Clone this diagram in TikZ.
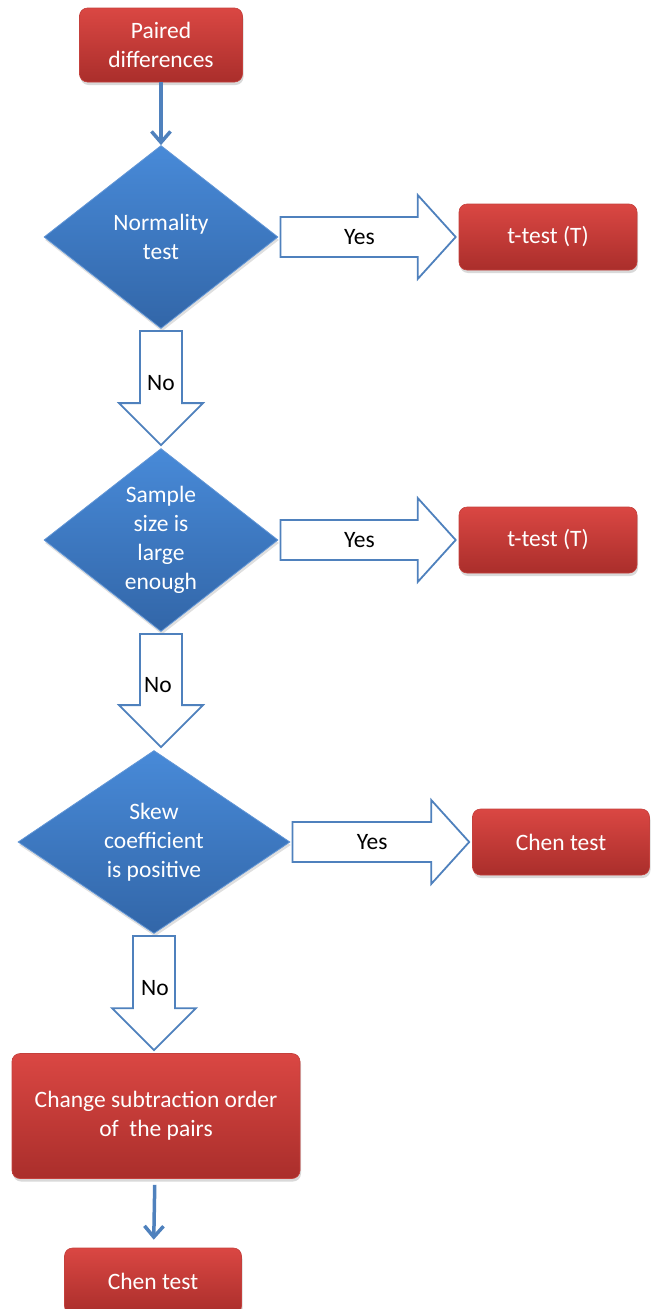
\documentclass[tikz,border=0pt]{standalone}
\usepackage{fontspec}
\setmainfont{Carlito}
\usetikzlibrary{shapes.geometric,arrows.meta,calc,shadows}

\definecolor{boxtop}{RGB}{218,71,67}
\definecolor{boxbot}{RGB}{170,46,43}
\definecolor{boxline}{RGB}{196,64,60}
\definecolor{dtop}{RGB}{72,138,216}
\definecolor{dbot}{RGB}{50,102,168}
\definecolor{dline}{RGB}{98,150,214}
\definecolor{arrowblue}{RGB}{79,129,189}

\tikzset{
  x=1pt, y=-1pt,
  every node/.style={font=\fontsize{23.5}{29}\selectfont},
  testbox/.style={rectangle, rounded corners=8pt, top color=boxtop, bottom color=boxbot,
    draw=boxline, line width=0.6pt, text=white, align=center,
    drop shadow={opacity=0.3, shadow xshift=1pt, shadow yshift=-3pt}},
  decision/.style={diamond, aspect=1.3, inner sep=0pt, minimum height=183pt, top color=dtop,
    bottom color=dbot, draw=dline, line width=0.8pt, text=white, align=center,
    drop shadow={opacity=0.25, shadow xshift=1pt, shadow yshift=-3pt}},
  blockarrow/.style={draw=arrowblue, fill=white, line width=1.8pt, line join=miter},
  conn/.style={draw=arrowblue, line width=3.5pt, -{Straight Barb[length=11pt,width=19pt]}},
  lbl/.style={text=black, inner sep=0pt}
}

% block arrow to the right: from, to, label name, label
\newcommand{\blockright}[4]{%
  \draw[blockarrow] let \p1=(#1.east), \p2=(#2.west) in
    (\x1+2pt,\y1+20pt) -- (\x2-41pt,\y1+20pt) -- (\x2-41pt,\y1+42pt) -- (\x2-3pt,\y1)
    -- (\x2-41pt,\y1-42pt) -- (\x2-41pt,\y1-20pt) -- (\x1+2pt,\y1-20pt) -- cycle;
  \node[lbl] (#3) at ($(#1.east)!0.45!(#2.west)$) {#4};}

% block arrow downwards: from, to, label name, label
\newcommand{\blockdown}[4]{%
  \draw[blockarrow] let \p1=(#1.south), \p2=(#2.north) in
    (\x1-21pt,\y1-2pt) -- (\x1-21pt,\y2+45pt) -- (\x1-42pt,\y2+45pt) -- (\x1,\y2+3pt)
    -- (\x1+42pt,\y2+45pt) -- (\x1+21pt,\y2+45pt) -- (\x1+21pt,\y1-2pt) -- cycle;
  \node[lbl] (#3) at ($(#1.south)!0.45!(#2.north)$) {#4};}

\begin{document}
\begin{tikzpicture}
  \useasboundingbox (0,0) rectangle (652,1309);

  \node[testbox, minimum width=163pt, minimum height=74pt] (pd) at (161,45) {Paired\\differences};

  \node[decision, minimum width=234pt] (d1) at (161,237) {Normality\\test};
  \node[testbox, minimum width=178pt, minimum height=66pt] (t1) at (548,237) {t-test (T)};

  \node[decision, minimum width=234pt] (d2) at (161,540) {Sample\\size is\\large\\enough};
  \node[testbox, minimum width=178pt, minimum height=66pt] (t2) at (548,540) {t-test (T)};

  \node[decision, minimum width=272pt] (d3) at (154,842) {Skew\\coefficient\\is positive};
  \node[testbox, minimum width=177pt, minimum height=66pt] (c1) at (561,842) {Chen test};

  \node[testbox, minimum width=288pt, minimum height=125pt] (ch) at (156,1116) {Change subtraction order\\of~ the pairs};
  \node[testbox, minimum width=177pt, minimum height=66pt] (c2) at (153,1281) {Chen test};

  \draw[conn] (pd) -- (d1);
  \blockright{d1}{t1}{yes1}{Yes}
  \blockdown{d1}{d2}{no1}{No}
  \blockright{d2}{t2}{yes2}{Yes}
  \blockdown{d2}{d3}{no2}{No}
  \blockright{d3}{c1}{yes3}{Yes}
  \blockdown{d3}{ch}{no3}{No}
  \draw[conn, shorten <=6pt, shorten >=8pt] (ch) -- (c2);
\end{tikzpicture}
\end{document}
